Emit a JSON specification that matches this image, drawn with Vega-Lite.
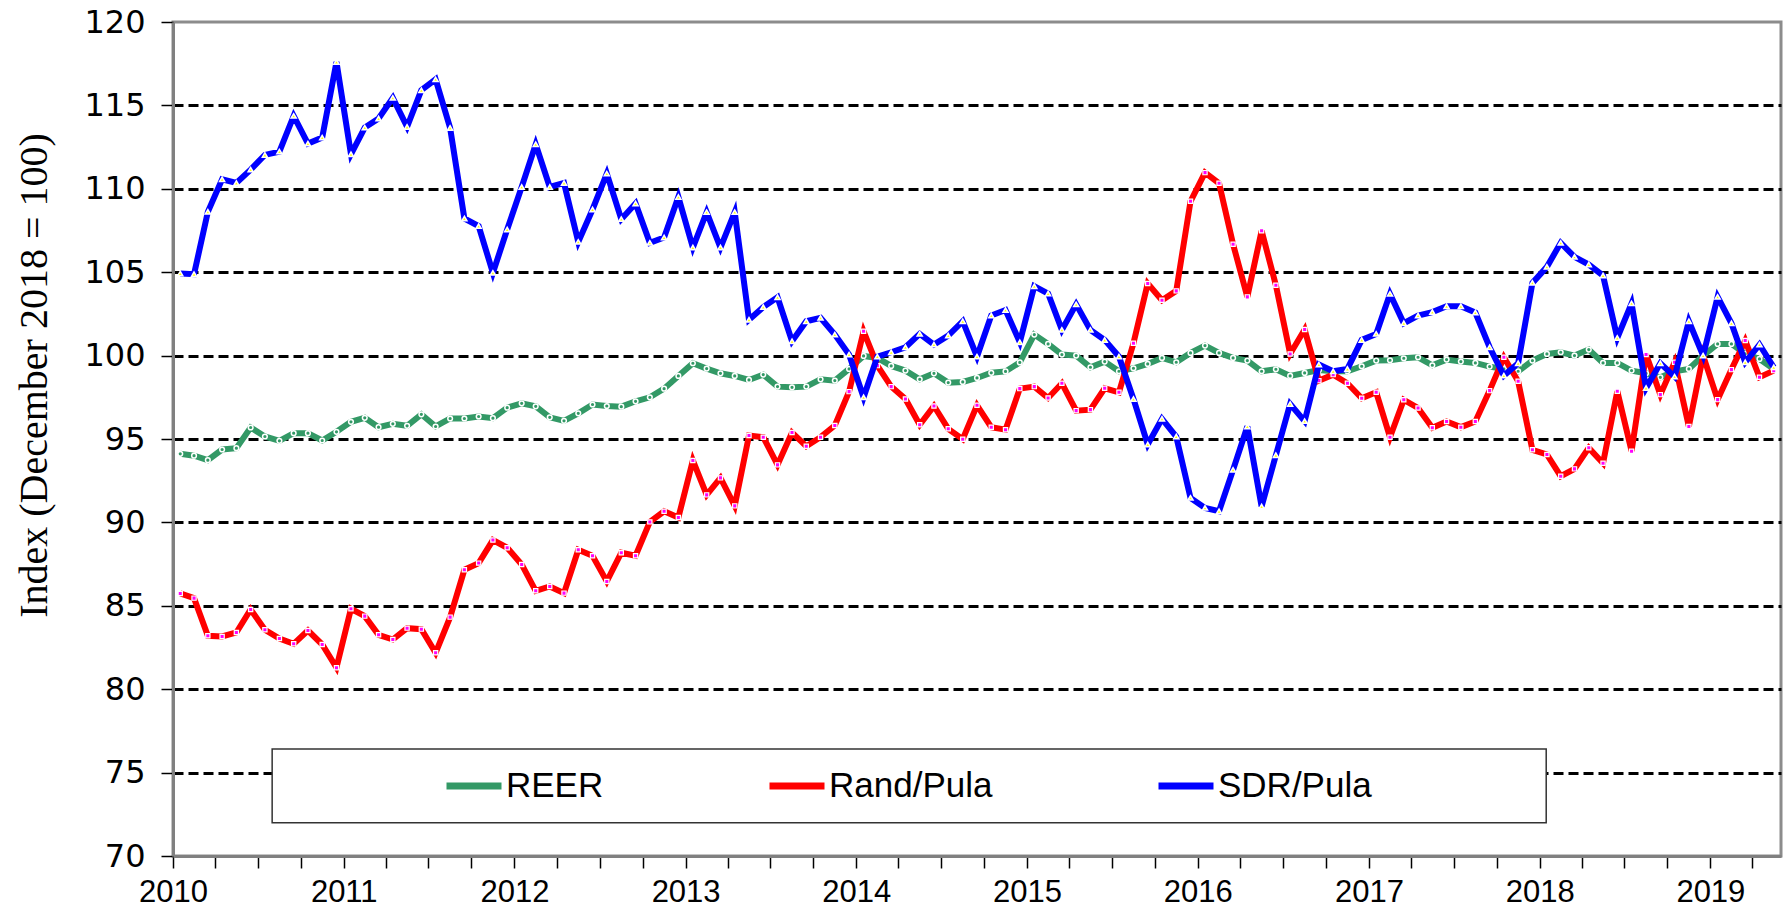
{
  "$schema": "https://vega.github.io/schema/vega-lite/v6.json",
  "width": 1608,
  "height": 834,
  "autosize": {"type": "none"},
  "padding": {"left": 173, "top": 22, "right": 7, "bottom": 59},
  "background": "white",
  "config": {
    "view": {"stroke": "#8c8c8c", "strokeWidth": 3}
  },
  "data": {"values": [
    {"m":"2010-01","REER":94.11,"Rand/Pula":85.74,"SDR/Pula":104.92},
    {"m":"2010-02","REER":94.00,"Rand/Pula":85.46,"SDR/Pula":104.88},
    {"m":"2010-03","REER":93.73,"Rand/Pula":83.20,"SDR/Pula":108.62},
    {"m":"2010-04","REER":94.37,"Rand/Pula":83.16,"SDR/Pula":110.57},
    {"m":"2010-05","REER":94.45,"Rand/Pula":83.40,"SDR/Pula":110.35},
    {"m":"2010-06","REER":95.69,"Rand/Pula":84.78,"SDR/Pula":111.15},
    {"m":"2010-07","REER":95.15,"Rand/Pula":83.56,"SDR/Pula":112.03},
    {"m":"2010-08","REER":94.89,"Rand/Pula":83.04,"SDR/Pula":112.23},
    {"m":"2010-09","REER":95.35,"Rand/Pula":82.72,"SDR/Pula":114.37},
    {"m":"2010-10","REER":95.35,"Rand/Pula":83.52,"SDR/Pula":112.71},
    {"m":"2010-11","REER":94.91,"Rand/Pula":82.68,"SDR/Pula":113.07},
    {"m":"2010-12","REER":95.43,"Rand/Pula":81.29,"SDR/Pula":117.60},
    {"m":"2011-01","REER":96.03,"Rand/Pula":84.82,"SDR/Pula":112.07},
    {"m":"2011-02","REER":96.27,"Rand/Pula":84.38,"SDR/Pula":113.67},
    {"m":"2011-03","REER":95.71,"Rand/Pula":83.26,"SDR/Pula":114.21},
    {"m":"2011-04","REER":95.91,"Rand/Pula":82.98,"SDR/Pula":115.45},
    {"m":"2011-05","REER":95.79,"Rand/Pula":83.66,"SDR/Pula":113.71},
    {"m":"2011-06","REER":96.48,"Rand/Pula":83.60,"SDR/Pula":115.91},
    {"m":"2011-07","REER":95.75,"Rand/Pula":82.18,"SDR/Pula":116.56},
    {"m":"2011-08","REER":96.23,"Rand/Pula":84.32,"SDR/Pula":113.65},
    {"m":"2011-09","REER":96.23,"Rand/Pula":87.16,"SDR/Pula":108.22},
    {"m":"2011-10","REER":96.35,"Rand/Pula":87.56,"SDR/Pula":107.76},
    {"m":"2011-11","REER":96.25,"Rand/Pula":88.94,"SDR/Pula":104.96},
    {"m":"2011-12","REER":96.88,"Rand/Pula":88.48,"SDR/Pula":107.56},
    {"m":"2012-01","REER":97.14,"Rand/Pula":87.48,"SDR/Pula":110.11},
    {"m":"2012-02","REER":96.96,"Rand/Pula":85.90,"SDR/Pula":112.67},
    {"m":"2012-03","REER":96.30,"Rand/Pula":86.16,"SDR/Pula":110.11},
    {"m":"2012-04","REER":96.09,"Rand/Pula":85.76,"SDR/Pula":110.35},
    {"m":"2012-05","REER":96.54,"Rand/Pula":88.36,"SDR/Pula":106.82},
    {"m":"2012-06","REER":97.07,"Rand/Pula":88.00,"SDR/Pula":108.76},
    {"m":"2012-07","REER":96.98,"Rand/Pula":86.46,"SDR/Pula":110.91},
    {"m":"2012-08","REER":96.94,"Rand/Pula":88.18,"SDR/Pula":108.18},
    {"m":"2012-09","REER":97.26,"Rand/Pula":88.00,"SDR/Pula":109.12},
    {"m":"2012-10","REER":97.50,"Rand/Pula":90.03,"SDR/Pula":106.76},
    {"m":"2012-11","REER":98.02,"Rand/Pula":90.67,"SDR/Pula":107.08},
    {"m":"2012-12","REER":98.78,"Rand/Pula":90.29,"SDR/Pula":109.51},
    {"m":"2013-01","REER":99.54,"Rand/Pula":93.71,"SDR/Pula":106.48},
    {"m":"2013-02","REER":99.22,"Rand/Pula":91.65,"SDR/Pula":108.60},
    {"m":"2013-03","REER":98.94,"Rand/Pula":92.67,"SDR/Pula":106.48},
    {"m":"2013-04","REER":98.78,"Rand/Pula":90.99,"SDR/Pula":108.60},
    {"m":"2013-05","REER":98.54,"Rand/Pula":95.21,"SDR/Pula":102.15},
    {"m":"2013-06","REER":98.86,"Rand/Pula":95.11,"SDR/Pula":102.91},
    {"m":"2013-07","REER":98.14,"Rand/Pula":93.45,"SDR/Pula":103.50},
    {"m":"2013-08","REER":98.10,"Rand/Pula":95.39,"SDR/Pula":100.86},
    {"m":"2013-09","REER":98.14,"Rand/Pula":94.57,"SDR/Pula":102.06},
    {"m":"2013-10","REER":98.58,"Rand/Pula":95.11,"SDR/Pula":102.26},
    {"m":"2013-11","REER":98.50,"Rand/Pula":95.81,"SDR/Pula":101.26},
    {"m":"2013-12","REER":99.20,"Rand/Pula":97.84,"SDR/Pula":100.06},
    {"m":"2014-01","REER":99.98,"Rand/Pula":101.46,"SDR/Pula":97.50},
    {"m":"2014-02","REER":99.86,"Rand/Pula":99.40,"SDR/Pula":99.94},
    {"m":"2014-03","REER":99.38,"Rand/Pula":98.14,"SDR/Pula":100.20},
    {"m":"2014-04","REER":99.10,"Rand/Pula":97.40,"SDR/Pula":100.50},
    {"m":"2014-05","REER":98.58,"Rand/Pula":95.85,"SDR/Pula":101.30},
    {"m":"2014-06","REER":98.94,"Rand/Pula":96.98,"SDR/Pula":100.66},
    {"m":"2014-07","REER":98.38,"Rand/Pula":95.61,"SDR/Pula":101.20},
    {"m":"2014-08","REER":98.42,"Rand/Pula":94.99,"SDR/Pula":102.06},
    {"m":"2014-09","REER":98.66,"Rand/Pula":97.02,"SDR/Pula":99.94},
    {"m":"2014-10","REER":98.97,"Rand/Pula":95.71,"SDR/Pula":102.40},
    {"m":"2014-11","REER":99.05,"Rand/Pula":95.56,"SDR/Pula":102.73},
    {"m":"2014-12","REER":99.59,"Rand/Pula":98.02,"SDR/Pula":100.80},
    {"m":"2015-01","REER":101.26,"Rand/Pula":98.14,"SDR/Pula":104.16},
    {"m":"2015-02","REER":100.70,"Rand/Pula":97.46,"SDR/Pula":103.72},
    {"m":"2015-03","REER":100.06,"Rand/Pula":98.34,"SDR/Pula":101.54},
    {"m":"2015-04","REER":100.00,"Rand/Pula":96.70,"SDR/Pula":103.07},
    {"m":"2015-05","REER":99.30,"Rand/Pula":96.76,"SDR/Pula":101.54},
    {"m":"2015-06","REER":99.64,"Rand/Pula":98.04,"SDR/Pula":100.94},
    {"m":"2015-07","REER":99.06,"Rand/Pula":97.80,"SDR/Pula":99.94},
    {"m":"2015-08","REER":99.24,"Rand/Pula":100.74,"SDR/Pula":97.40},
    {"m":"2015-09","REER":99.50,"Rand/Pula":104.32,"SDR/Pula":94.67},
    {"m":"2015-10","REER":99.86,"Rand/Pula":103.32,"SDR/Pula":96.21},
    {"m":"2015-11","REER":99.60,"Rand/Pula":103.88,"SDR/Pula":95.15},
    {"m":"2015-12","REER":100.16,"Rand/Pula":109.25,"SDR/Pula":91.47},
    {"m":"2016-01","REER":100.60,"Rand/Pula":110.97,"SDR/Pula":90.87},
    {"m":"2016-02","REER":100.16,"Rand/Pula":110.33,"SDR/Pula":90.67},
    {"m":"2016-03","REER":99.86,"Rand/Pula":106.68,"SDR/Pula":93.15},
    {"m":"2016-04","REER":99.70,"Rand/Pula":103.52,"SDR/Pula":95.75},
    {"m":"2016-05","REER":99.06,"Rand/Pula":107.48,"SDR/Pula":90.95},
    {"m":"2016-06","REER":99.18,"Rand/Pula":104.22,"SDR/Pula":94.03},
    {"m":"2016-07","REER":98.78,"Rand/Pula":100.10,"SDR/Pula":97.10},
    {"m":"2016-08","REER":98.96,"Rand/Pula":101.56,"SDR/Pula":96.07},
    {"m":"2016-09","REER":99.14,"Rand/Pula":98.50,"SDR/Pula":99.46},
    {"m":"2016-10","REER":99.06,"Rand/Pula":98.86,"SDR/Pula":99.06},
    {"m":"2016-11","REER":99.06,"Rand/Pula":98.34,"SDR/Pula":99.20},
    {"m":"2016-12","REER":99.36,"Rand/Pula":97.44,"SDR/Pula":100.94},
    {"m":"2017-01","REER":99.70,"Rand/Pula":97.80,"SDR/Pula":101.30},
    {"m":"2017-02","REER":99.72,"Rand/Pula":95.11,"SDR/Pula":103.70},
    {"m":"2017-03","REER":99.84,"Rand/Pula":97.35,"SDR/Pula":101.94},
    {"m":"2017-04","REER":99.90,"Rand/Pula":96.86,"SDR/Pula":102.40},
    {"m":"2017-05","REER":99.42,"Rand/Pula":95.67,"SDR/Pula":102.61},
    {"m":"2017-06","REER":99.76,"Rand/Pula":96.05,"SDR/Pula":102.96},
    {"m":"2017-07","REER":99.64,"Rand/Pula":95.71,"SDR/Pula":102.96},
    {"m":"2017-08","REER":99.56,"Rand/Pula":96.05,"SDR/Pula":102.58},
    {"m":"2017-09","REER":99.34,"Rand/Pula":97.90,"SDR/Pula":100.50},
    {"m":"2017-10","REER":99.20,"Rand/Pula":99.90,"SDR/Pula":98.80},
    {"m":"2017-11","REER":99.06,"Rand/Pula":98.46,"SDR/Pula":99.54},
    {"m":"2017-12","REER":99.70,"Rand/Pula":94.35,"SDR/Pula":104.36},
    {"m":"2018-01","REER":100.10,"Rand/Pula":94.07,"SDR/Pula":105.32},
    {"m":"2018-02","REER":100.20,"Rand/Pula":92.77,"SDR/Pula":106.76},
    {"m":"2018-03","REER":100.00,"Rand/Pula":93.21,"SDR/Pula":105.92},
    {"m":"2018-04","REER":100.36,"Rand/Pula":94.47,"SDR/Pula":105.46},
    {"m":"2018-05","REER":99.56,"Rand/Pula":93.55,"SDR/Pula":104.80},
    {"m":"2018-06","REER":99.56,"Rand/Pula":97.86,"SDR/Pula":101.06},
    {"m":"2018-07","REER":99.10,"Rand/Pula":94.27,"SDR/Pula":103.13},
    {"m":"2018-08","REER":98.94,"Rand/Pula":100.06,"SDR/Pula":98.06},
    {"m":"2018-09","REER":98.70,"Rand/Pula":97.66,"SDR/Pula":99.54},
    {"m":"2018-10","REER":99.06,"Rand/Pula":99.60,"SDR/Pula":98.74},
    {"m":"2018-11","REER":99.20,"Rand/Pula":95.75,"SDR/Pula":102.06},
    {"m":"2018-12","REER":100.00,"Rand/Pula":100.00,"SDR/Pula":100.00},
    {"m":"2019-01","REER":100.70,"Rand/Pula":97.36,"SDR/Pula":103.52},
    {"m":"2019-02","REER":100.70,"Rand/Pula":99.16,"SDR/Pula":101.94},
    {"m":"2019-03","REER":100.10,"Rand/Pula":100.90,"SDR/Pula":99.60},
    {"m":"2019-04","REER":99.80,"Rand/Pula":98.70,"SDR/Pula":100.66},
    {"m":"2019-05","REER":99.20,"Rand/Pula":99.10,"SDR/Pula":99.30}
  ]},
  "transform": [{"fold": ["REER", "Rand/Pula", "SDR/Pula"], "as": ["series", "value"]}],
  "layer": [
    {
      "transform": [{"aggregate": [{"op": "count", "as": "n"}]}],
      "mark": {"type": "rect", "fill": "white", "stroke": "#333333", "strokeWidth": 1.5},
      "encoding": {
        "x": {"datum": {"year": 2010, "month": 8, "date": 1, "utc": true}, "type": "temporal", "scale": {"type": "utc"}},
        "x2": {"datum": {"year": 2018, "month": 1, "date": 15, "utc": true}},
        "y": {"datum": 72.0, "type": "quantitative"},
        "y2": {"datum": 76.42}
      }
    },
    {
      "encoding": {
        "x": {
          "field": "m", "type": "temporal", "timeUnit": "utcyearmonth", "bandPosition": 0.5,
          "scale": {"type": "utc", "domain": [{"year": 2010, "month": 1, "date": 1, "utc": true}, {"year": 2019, "month": 6, "date": 1, "utc": true}]},
          "axis": {
            "title": null,
            "tickCount": {"interval": "month", "step": 3},
            "labelExpr": "utcFormat(datum.value, '%m') == '01' ? utcFormat(datum.value, '%Y') : ''",
            "labelFlush": false, "labelOverlap": false, "grid": false,
            "domainColor": "#808080", "domainWidth": 3,
            "tickColor": "black", "tickSize": 12, "tickWidth": 1.5,
            "labelFont": "Liberation Sans", "labelFontSize": 31, "labelColor": "black", "labelPadding": 9
          }
        },
        "y": {
          "field": "value", "type": "quantitative",
          "scale": {"domain": [70, 120], "nice": false, "zero": false},
          "axis": {
            "values": [70, 75, 80, 85, 90, 95, 100, 105, 110, 115, 120],
            "title": "Index (December 2018 = 100)",
            "titleFont": "Liberation Serif", "titleFontSize": 40, "titleFontWeight": "normal", "titleColor": "black",
            "titleX": -139, "titleY": 353, "titleAngle": -90, "titleAlign": "center", "titleBaseline": "middle",
            "labelFont": "DejaVu Sans", "labelFontSize": 32, "labelColor": "black", "labelPadding": 16,
            "tickSize": 12, "tickColor": "black", "tickWidth": 1.5,
            "domainColor": "#808080", "domainWidth": 3,
            "grid": true, "gridColor": "black", "gridWidth": 3, "gridDash": [10, 5],
            "gridOpacity": {"condition": {"test": "datum.value == 120 || datum.value == 70", "value": 0}, "value": 1}
          }
        }
      },
      "layer": [
        {
          "transform": [{"filter": {"field": "series", "equal": "REER"}}],
          "mark": {"type": "line", "strokeWidth": 6},
          "encoding": {
            "color": {"field": "series", "type": "nominal",
              "scale": {"domain": ["REER", "Rand/Pula", "SDR/Pula"], "range": ["#339966", "#FF0000", "#0000FF"]},
              "legend": {
                "orient": "none", "legendX": 270, "legendY": 733, "direction": "horizontal", "title": null,
                "symbolType": "stroke", "symbolStrokeWidth": 7, "symbolSize": 3025,
                "labelFont": "Liberation Sans", "labelFontSize": 35, "labelColor": "black",
                "labelOffset": 1, "columnPadding": 151, "padding": 0, "labelLimit": 400
              }
            }
          }
        },
        {
          "transform": [{"filter": {"field": "series", "equal": "REER"}}],
          "mark": {"type": "point", "shape": "circle", "filled": true, "fill": "#339966", "stroke": "white", "strokeWidth": 1.5, "size": 22, "opacity": 1}
        },
        {
          "transform": [{"filter": {"field": "series", "equal": "Rand/Pula"}}],
          "mark": {"type": "line", "strokeWidth": 6},
          "encoding": {"color": {"field": "series", "type": "nominal"}}
        },
        {
          "transform": [{"filter": {"field": "series", "equal": "Rand/Pula"}}],
          "mark": {"type": "point", "shape": "square", "filled": true, "fill": "#FF00FF", "stroke": "white", "strokeWidth": 1.2, "size": 18, "opacity": 1}
        },
        {
          "transform": [{"filter": {"field": "series", "equal": "SDR/Pula"}}],
          "mark": {"type": "line", "strokeWidth": 6},
          "encoding": {"color": {"field": "series", "type": "nominal"}}
        },
        {
          "transform": [{"filter": {"field": "series", "equal": "SDR/Pula"}}],
          "mark": {"type": "point", "shape": "triangle-up", "filled": true, "fill": "#FFFF00", "stroke": "white", "strokeWidth": 1.5, "size": 26, "opacity": 1}
        }
      ]
    }
  ]
}
